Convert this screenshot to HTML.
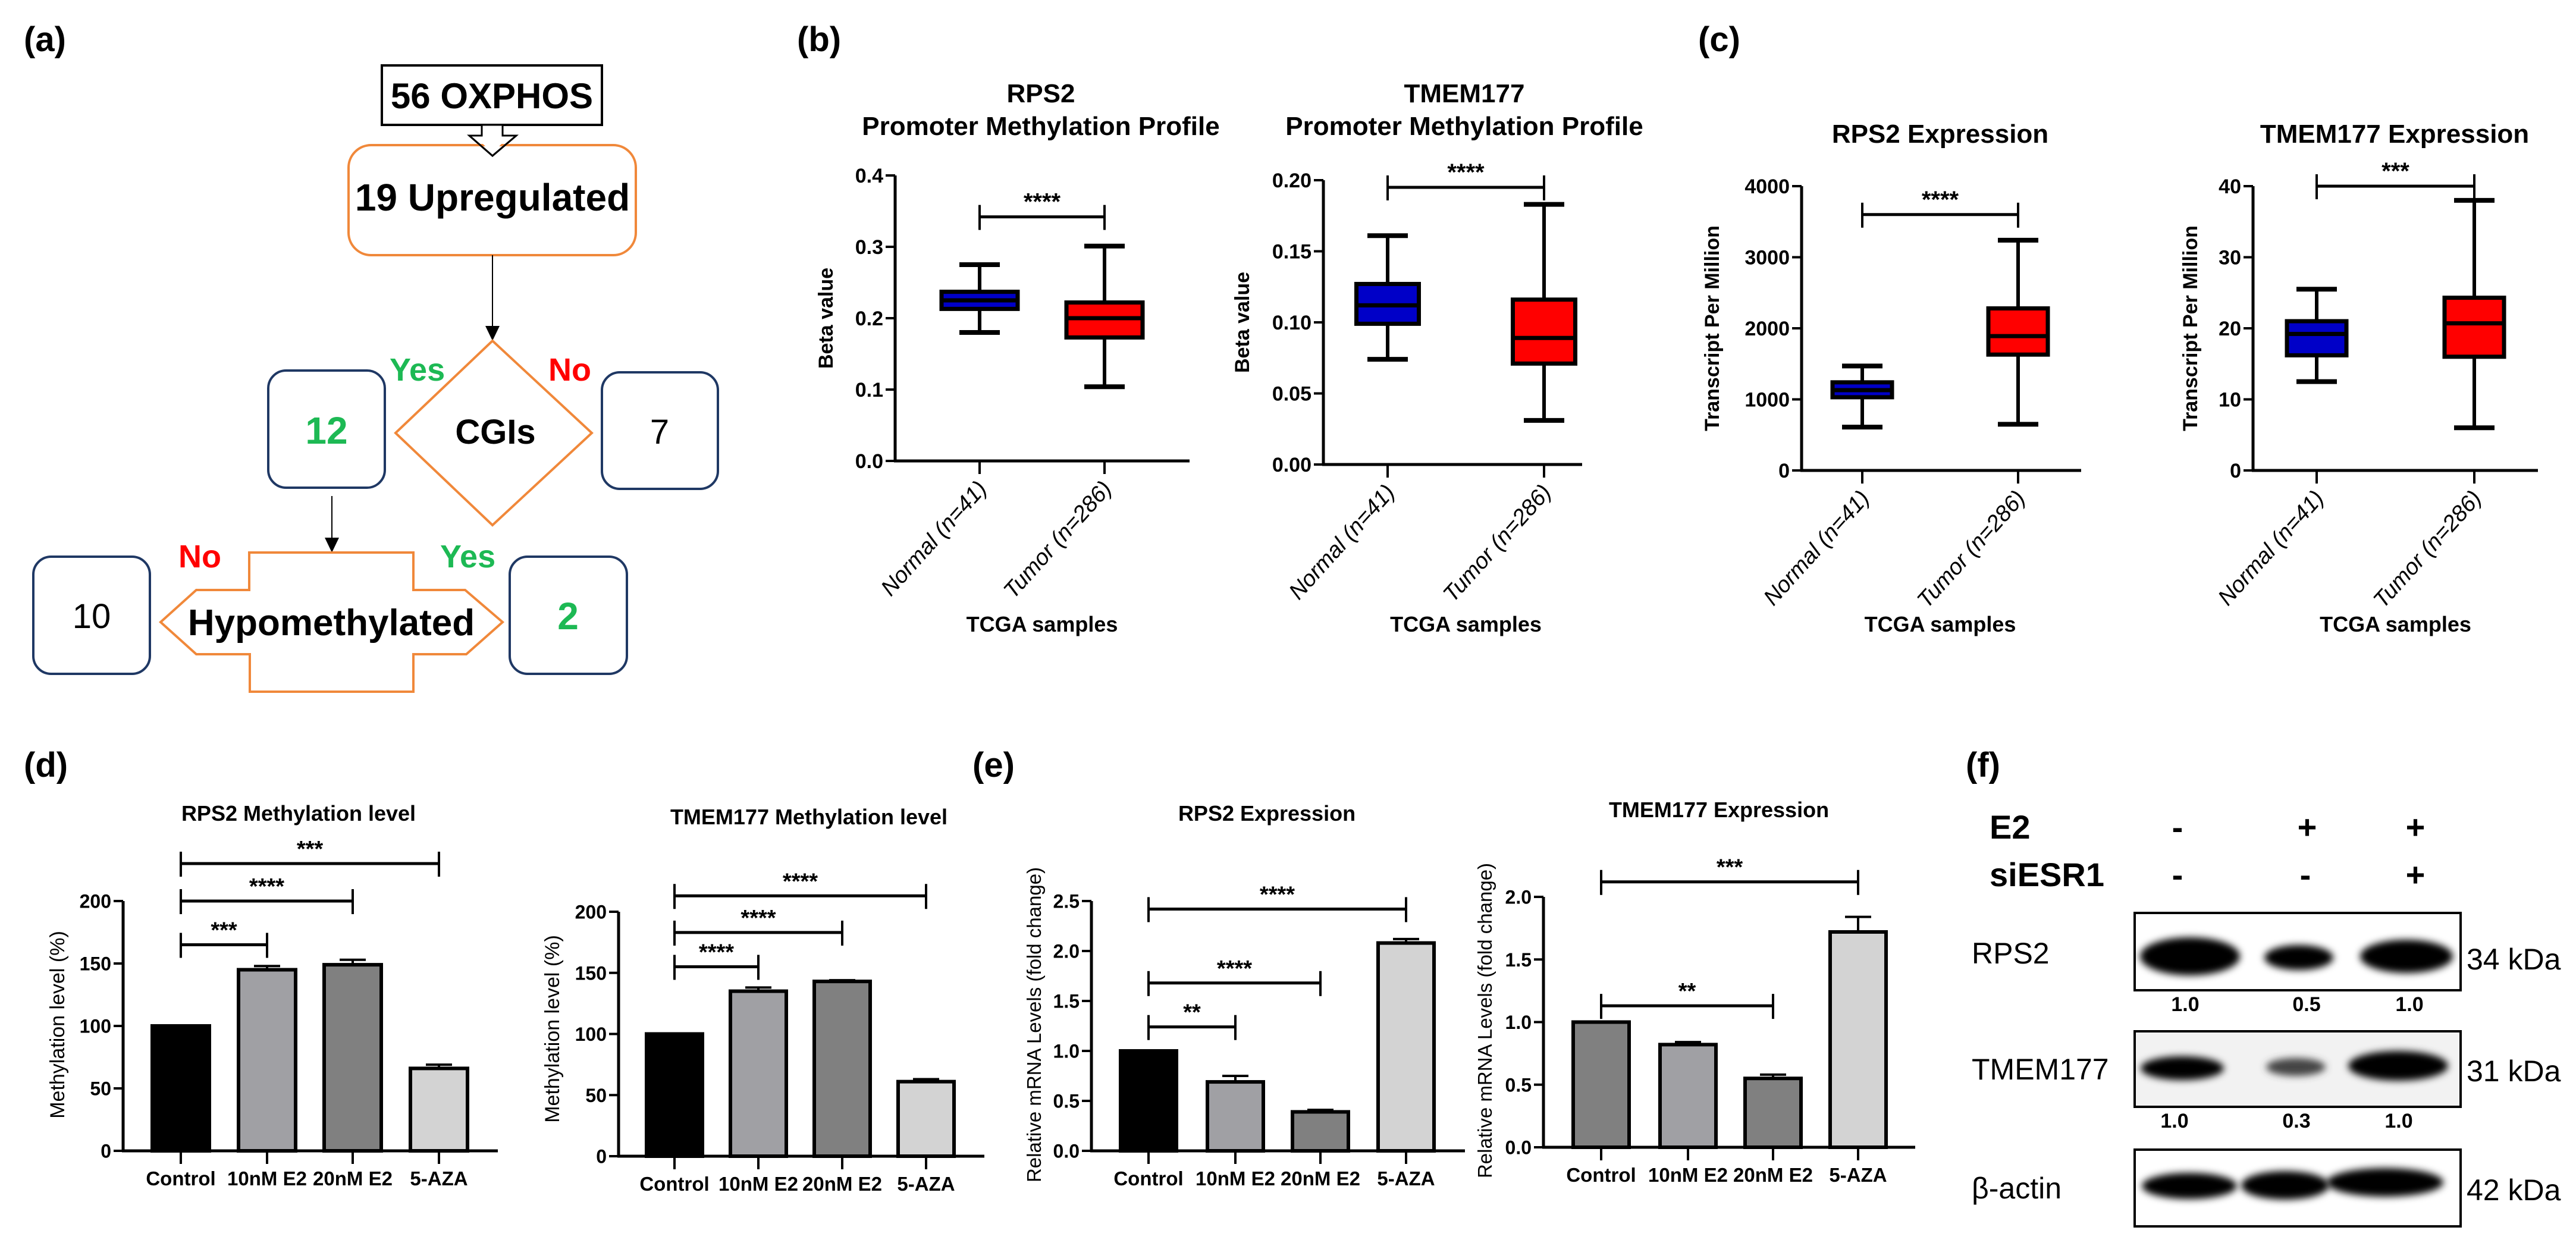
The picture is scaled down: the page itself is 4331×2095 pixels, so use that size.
<!DOCTYPE html>
<html><head><meta charset="utf-8"><style>
html,body{margin:0;padding:0;background:#fff;}
svg{display:block;font-family:"Liberation Sans",Arial,sans-serif;}
.nar{font-family:"Liberation Sans Narrow","Liberation Sans",sans-serif;}
</style></head><body>
<svg id="fig" width="4331" height="2095" viewBox="0 0 4331 2095" xmlns="http://www.w3.org/2000/svg">
<defs>
<filter id="blur" x="-20%" y="-60%" width="140%" height="220%"><feGaussianBlur stdDeviation="6"/></filter>
</defs>
<g font-weight="bold" font-size="58" class="nar">
<text x="40" y="86">(a)</text>
<text x="1340" y="86">(b)</text>
<text x="2855" y="86">(c)</text>
<text x="40" y="1306">(d)</text>
<text x="1635" y="1306">(e)</text>
<text x="3305" y="1306">(f)</text>
</g>
<g>
<rect x="642" y="110" width="370" height="100" fill="#fff" stroke="#000" stroke-width="4"/>
<text x="827" y="182" text-anchor="middle" font-size="60" font-weight="bold" class="nar">56 OXPHOS</text>
<polygon points="810,210 845,210 845,228 868,228 828,262 789,228 810,228" fill="#fff" stroke="#000" stroke-width="3"/>
<rect x="586" y="244" width="483" height="185" rx="38" fill="none" stroke="#f0883a" stroke-width="4"/>
<polygon points="810,240 845,240 828,258" fill="#fff"/>
<path d="M789,228 L828,262 L868,228" fill="none" stroke="#000" stroke-width="3"/>
<text x="828" y="354" text-anchor="middle" font-size="64" font-weight="bold">19  Upregulated</text>
<line x1="828" y1="429" x2="828" y2="550" stroke="#000" stroke-width="2"/>
<polygon points="828,573 816,548 840,548" fill="#000"/>
<polygon points="828,573 995,728 828,883 665,728" fill="none" stroke="#f0883a" stroke-width="4"/>
<text x="833" y="746" text-anchor="middle" font-size="58" font-weight="bold">CGIs</text>
<text x="655" y="640" font-size="54" font-weight="bold" fill="#1db954">Yes</text>
<text x="922" y="640" font-size="54" font-weight="bold" fill="#ff0000">No</text>
<rect x="451" y="623" width="196" height="197" rx="30" fill="none" stroke="#1f3864" stroke-width="4"/>
<text x="549" y="746" text-anchor="middle" font-size="64" font-weight="bold" fill="#1db954">12</text>
<rect x="1012" y="626" width="195" height="196" rx="30" fill="none" stroke="#1f3864" stroke-width="4"/>
<text x="1109" y="746" text-anchor="middle" font-size="58">7</text>
<line x1="558" y1="834" x2="558" y2="905" stroke="#000" stroke-width="2"/>
<polygon points="558,929 546,904 570,904" fill="#000"/>
<polygon points="419,929 695,929 695,992 782,992 845,1046 784,1100 695,1100 695,1163 420,1163 420,1100 330,1100 270,1046 330,992 419,992" fill="none" stroke="#f0883a" stroke-width="4"/>
<text x="557" y="1068" text-anchor="middle" font-size="62" font-weight="bold">Hypomethylated</text>
<text x="300" y="954" font-size="54" font-weight="bold" fill="#ff0000">No</text>
<text x="740" y="954" font-size="54" font-weight="bold" fill="#1db954">Yes</text>
<rect x="56" y="936" width="196" height="197" rx="30" fill="none" stroke="#1f3864" stroke-width="4"/>
<text x="154" y="1056" text-anchor="middle" font-size="58">10</text>
<rect x="857" y="936" width="197" height="197" rx="30" fill="none" stroke="#1f3864" stroke-width="4"/>
<text x="955" y="1058" text-anchor="middle" font-size="64" font-weight="bold" fill="#1db954">2</text>
</g>
<g class="nar">
<text x="3345" y="1410" font-size="56" font-weight="bold">E2</text>
<text x="3345" y="1490" font-size="56" font-weight="bold">siESR1</text>
<g font-size="56" font-weight="bold" text-anchor="middle">
<text x="3661" y="1410">-</text>
<text x="3879" y="1410">+</text>
<text x="4061" y="1410">+</text>
<text x="3661" y="1490">-</text>
<text x="3876" y="1490">-</text>
<text x="4061" y="1490">+</text>
</g>
<g>
<rect x="3589" y="1535" width="548" height="130" fill="#fff" stroke="#000" stroke-width="4"/>
<ellipse cx="3682" cy="1608" rx="84" ry="32" fill="#000" filter="url(#blur)"/>
<ellipse cx="3865" cy="1610" rx="58" ry="21" fill="#000" filter="url(#blur)"/>
<ellipse cx="4046" cy="1608" rx="78" ry="28" fill="#000" filter="url(#blur)"/>
</g>
<g>
<rect x="3589" y="1734" width="548" height="127" fill="#f2f2f2" stroke="#000" stroke-width="4"/>
<ellipse cx="3669" cy="1796" rx="70" ry="20" fill="#000" filter="url(#blur)"/>
<ellipse cx="3860" cy="1794" rx="50" ry="15" fill="#444" filter="url(#blur)"/>
<ellipse cx="4032" cy="1792" rx="84" ry="25" fill="#000" filter="url(#blur)"/>
</g>
<g>
<rect x="3589" y="1933" width="548" height="129" fill="#fff" stroke="#000" stroke-width="4"/>
<ellipse cx="3681" cy="1994" rx="80" ry="22" fill="#000" filter="url(#blur)"/>
<ellipse cx="3842" cy="1993" rx="74" ry="24" fill="#000" filter="url(#blur)"/>
<ellipse cx="4010" cy="1988" rx="98" ry="24" fill="#000" filter="url(#blur)"/>
</g>
<text x="3315" y="1620" font-size="50">RPS2</text>
<text x="3315" y="1815" font-size="50">TMEM177</text>
<text x="3315" y="2015" font-size="50">β-actin</text>
<text x="4147" y="1630" font-size="50">34 kDa</text>
<text x="4147" y="1818" font-size="50">31 kDa</text>
<text x="4147" y="2018" font-size="50">42 kDa</text>
<g font-size="34" font-weight="bold" text-anchor="middle">
<text x="3674" y="1700">1.0</text>
<text x="3878" y="1700">0.5</text>
<text x="4051" y="1700">1.0</text>
<text x="3656" y="1896">1.0</text>
<text x="3861" y="1896">0.3</text>
<text x="4033" y="1896">1.0</text>
</g>
</g>
</svg>
<script>
const boxCategories = ["Normal (n=41)", "Tumor (n=286)"];
// [min, q1, median, q3, max]
const bRps2Normal = [0.180, 0.213, 0.225, 0.237, 0.275];
const bRps2Tumor = [0.104, 0.173, 0.200, 0.222, 0.301];
const bTmemNormal = [0.074, 0.099, 0.112, 0.127, 0.161];
const bTmemTumor = [0.031, 0.071, 0.089, 0.116, 0.183];
const cRps2Normal = [610, 1030, 1130, 1240, 1470];
const cRps2Tumor = [650, 1630, 1890, 2280, 3240];
const cTmemNormal = [12.5, 16.2, 19.2, 21.0, 25.5];
const cTmemTumor = [6.0, 16.0, 20.7, 24.3, 38.0];
const bRps2Ticks = [0, 0.1, 0.2, 0.3, 0.4];
const bRps2TickLabels = ["0.0", "0.1", "0.2", "0.3", "0.4"];
const bTmemTicks = [0, 0.05, 0.10, 0.15, 0.20];
const bTmemTickLabels = ["0.00", "0.05", "0.10", "0.15", "0.20"];
const cRps2Ticks = [0, 1000, 2000, 3000, 4000];
const cTmemTicks = [0, 10, 20, 30, 40];

const barCategories = ["Control", "10nM E2", "20nM E2", "5-AZA"];
const dRps2Values = [100, 145, 149, 66];
const dRps2Errors = [0, 3, 4, 3];
const dTmemValues = [100, 135, 143, 61];
const dTmemErrors = [0, 3, 1, 2];
const eRps2Values = [1.0, 0.69, 0.39, 2.08];
const eRps2Errors = [0, 0.06, 0.02, 0.04];
const eTmemValues = [1.0, 0.82, 0.55, 1.72];
const eTmemErrors = [0, 0.02, 0.03, 0.12];
const dTicks = [0, 50, 100, 150, 200];
const eRps2Ticks = [0, 0.5, 1.0, 1.5, 2.0, 2.5];
const eRps2TickLabels = ["0.0", "0.5", "1.0", "1.5", "2.0", "2.5"];
const eTmemTicks = [0, 0.5, 1.0, 1.5, 2.0];
const eTmemTickLabels = ["0.0", "0.5", "1.0", "1.5", "2.0"];
// [fromIndex, toIndex, yValue, label]
const bRps2Sig = [[0, 1, 0.342, "****"]];
const bTmemSig = [[0, 1, 0.195, "****"]];
const cRps2Sig = [[0, 1, 3600, "****"]];
const cTmemSig = [[0, 1, 40, "***"]];
const dRps2Sig = [[0, 1, 165, "***"], [0, 2, 200, "****"], [0, 3, 230, "***"]];
const dTmemSig = [[0, 1, 155, "****"], [0, 2, 183, "****"], [0, 3, 213, "****"]];
const eRps2Sig = [[0, 1, 1.24, "**"], [0, 2, 1.68, "****"], [0, 3, 2.42, "****"]];
const eTmemSig = [[0, 2, 1.13, "**"], [0, 3, 2.12, "***"]];

const NS = "http://www.w3.org/2000/svg";
const svg = document.getElementById("fig");
function mk(tag, attrs, parent, name) {
  const e = document.createElementNS(NS, tag);
  for (const k in attrs) e.setAttribute(k, attrs[k]);
  
  
  parent.appendChild(e);
  return e;
}
function txt(str, attrs, parent, name) {
  const t = mk("text", attrs, parent, name);
  t.textContent = str;
  return t;
}
function axes(g, L, ticks, tickLabels, yScale, fs) {
  mk("line", {x1: L.ax, y1: L.y0 + 2, x2: L.ax, y2: L.yTop, stroke: "#000", "stroke-width": 5}, g, "y-axis-line");
  mk("line", {x1: L.ax - 2, y1: L.y0, x2: L.xEnd, y2: L.y0, stroke: "#000", "stroke-width": 5}, g, "x-axis-line");
  ticks.forEach((t, i) => {
    const y = yScale(t);
    mk("line", {x1: L.ax - 16, y1: y, x2: L.ax, y2: y, stroke: "#000", "stroke-width": 4}, g, "y-tick");
    txt(tickLabels[i], {x: L.ax - 20, y: y + fs * 0.36, "text-anchor": "end", "font-size": fs, class: "nar", "font-weight": "bold"}, g, "y-tick-label");
  });
}
function sigBrackets(g, sig, xs, yScale, fs) {
  sig.forEach(s => {
    const y = yScale(s[2]);
    const x1 = xs[s[0]], x2 = xs[s[1]];
    mk("line", {x1: x1, y1: y, x2: x2, y2: y, stroke: "#000", "stroke-width": 5}, g, "sig-bracket");
    mk("line", {x1: x1, y1: y - 20, x2: x1, y2: y + 22, stroke: "#000", "stroke-width": 4}, g, "sig-bracket-end");
    mk("line", {x1: x2, y1: y - 20, x2: x2, y2: y + 22, stroke: "#000", "stroke-width": 4}, g, "sig-bracket-end");
    txt(s[3], {x: (x1 + x2) / 2, y: y - 12, "text-anchor": "middle", "font-size": fs, "font-weight": "bold"}, g, "sig-stars");
  });
}
function boxChart(L, series, ticks, tickLabels, sig, title, yLabel, name) {
  const g = mk("g", {}, svg, name);
  const ymax = ticks[ticks.length - 1];
  const yScale = v => L.y0 - (v / ymax) * (L.y0 - L.yTop);
  title.forEach((t, i) => txt(t, {x: L.tx, y: L.ty + i * 55, "text-anchor": "middle", "font-size": 44, "font-weight": "bold", class: "nar"}, g, "chart-title"));
  txt(yLabel, {x: 0, y: 0, transform: `translate(${L.yl},${(L.y0 + L.yTop) / 2}) rotate(-90)`, "text-anchor": "middle", "font-size": 34, "font-weight": "bold"}, g, "y-axis-title");
  axes(g, L, ticks, tickLabels, yScale, 34);
  const colors = ["#0000c8", "#ff0000"];
  series.forEach((d, i) => {
    const cx = L.xs[i], w = L.bw;
    mk("line", {x1: cx, y1: yScale(d[0]), x2: cx, y2: yScale(d[4]), stroke: "#000", "stroke-width": 6}, g, "whisker");
    mk("line", {x1: cx - 34, y1: yScale(d[0]), x2: cx + 34, y2: yScale(d[0]), stroke: "#000", "stroke-width": 8}, g, "whisker-cap-min");
    mk("line", {x1: cx - 34, y1: yScale(d[4]), x2: cx + 34, y2: yScale(d[4]), stroke: "#000", "stroke-width": 8}, g, "whisker-cap-max");
    mk("rect", {x: cx - w / 2, y: yScale(d[3]), width: w, height: yScale(d[1]) - yScale(d[3]), fill: colors[i], stroke: "#000", "stroke-width": 7}, g, "box-" + (i ? "tumor" : "normal"));
    mk("line", {x1: cx - w / 2, y1: yScale(d[2]), x2: cx + w / 2, y2: yScale(d[2]), stroke: "#000", "stroke-width": 7}, g, "median-line");
    mk("line", {x1: cx, y1: L.y0, x2: cx, y2: L.y0 + 22, stroke: "#000", "stroke-width": 4}, g, "x-tick");
    txt(boxCategories[i], {x: 0, y: 0, transform: `translate(${cx + 14},${L.y0 + 48}) rotate(-48)`, "text-anchor": "end", "font-size": 38, "font-style": "italic"}, g, "x-tick-label");
  });
  sigBrackets(g, sig, L.xs, yScale, 40);
  txt("TCGA samples", {x: (L.xs[0] + L.xs[1]) / 2, y: 1062, "text-anchor": "middle", "font-size": 36, "font-weight": "bold", class: "nar"}, g, "x-axis-title");
}
function barChart(L, values, errors, colors, ticks, tickLabels, sig, title, yLabel, name, ylfs) {
  const g = mk("g", {}, svg, name);
  const ymax = ticks[ticks.length - 1];
  const yScale = v => L.y0 - (v / ymax) * (L.y0 - L.yTop);
  txt(title, {x: L.tx, y: L.ty, "text-anchor": "middle", "font-size": 36, "font-weight": "bold", class: "nar"}, g, "chart-title");
  txt(yLabel, {x: 0, y: 0, transform: `translate(${L.yl},${L.ylc}) rotate(-90)`, "text-anchor": "middle", "font-size": ylfs}, g, "y-axis-title");
  axes(g, L, ticks, tickLabels, yScale, 32);
  values.forEach((v, i) => {
    const cx = L.xs[i], w = L.bw;
    if (errors[i] > 0) {
      mk("line", {x1: cx, y1: yScale(v), x2: cx, y2: yScale(v + errors[i]), stroke: "#000", "stroke-width": 4}, g, "error-bar");
      mk("line", {x1: cx - 22, y1: yScale(v + errors[i]), x2: cx + 22, y2: yScale(v + errors[i]), stroke: "#000", "stroke-width": 4}, g, "error-cap");
    }
    mk("rect", {x: cx - w / 2, y: yScale(v), width: w, height: L.y0 - yScale(v), fill: colors[i], stroke: "#000", "stroke-width": 6}, g, "bar-" + barCategories[i].toLowerCase().replace(/\s+/g, "-"));
    mk("line", {x1: cx, y1: L.y0, x2: cx, y2: L.y0 + 22, stroke: "#000", "stroke-width": 4}, g, "x-tick");
    txt(barCategories[i], {x: cx, y: L.y0 + 58, "text-anchor": "middle", "font-size": 33, "font-weight": "bold", class: "nar"}, g, "x-tick-label");
  });
  sigBrackets(g, sig, L.xs, yScale, 38);
}

boxChart({ax: 1505, y0: 775, yTop: 295, xEnd: 2000, xs: [1647, 1857], bw: 128, tx: 1750, ty: 172, yl: 1400},
  [bRps2Normal, bRps2Tumor], bRps2Ticks, bRps2TickLabels, bRps2Sig, ["RPS2", "Promoter Methylation Profile"], "Beta value", "box-chart-b-rps2");
boxChart({ax: 2225, y0: 781, yTop: 303, xEnd: 2660, xs: [2333, 2596], bw: 105, tx: 2462, ty: 172, yl: 2100},
  [bTmemNormal, bTmemTumor], bTmemTicks, bTmemTickLabels, bTmemSig, ["TMEM177", "Promoter Methylation Profile"], "Beta value", "box-chart-b-tmem177");
boxChart({ax: 3029, y0: 791, yTop: 313, xEnd: 3499, xs: [3131, 3393], bw: 100, tx: 3262, ty: 240, yl: 2890},
  [cRps2Normal, cRps2Tumor], cRps2Ticks, cRps2Ticks.map(String), cRps2Sig, ["RPS2 Expression"], "Transcript Per Million", "box-chart-c-rps2");
boxChart({ax: 3788, y0: 791, yTop: 313, xEnd: 4267, xs: [3895, 4160], bw: 100, tx: 4026, ty: 240, yl: 3694},
  [cTmemNormal, cTmemTumor], cTmemTicks, cTmemTicks.map(String), cTmemSig, ["TMEM177 Expression"], "Transcript Per Million", "box-chart-c-tmem177");

barChart({ax: 207, y0: 1935, yTop: 1515, xEnd: 837, xs: [304, 449, 593, 738], bw: 96, tx: 502, ty: 1380, yl: 108, ylc: 1723},
  dRps2Values, dRps2Errors, ["#000", "#a0a0a4", "#808080", "#d3d3d3"], dTicks, dTicks.map(String), dRps2Sig, "RPS2 Methylation level", "Methylation level (%)", "bar-chart-d-rps2", 34);
barChart({ax: 1040, y0: 1944, yTop: 1533, xEnd: 1655, xs: [1134, 1275, 1416, 1557], bw: 94, tx: 1360, ty: 1386, yl: 940, ylc: 1730},
  dTmemValues, dTmemErrors, ["#000", "#a0a0a4", "#808080", "#d3d3d3"], dTicks, dTicks.map(String), dTmemSig, "TMEM177 Methylation level", "Methylation level (%)", "bar-chart-d-tmem177", 34);
barChart({ax: 1835, y0: 1935, yTop: 1515, xEnd: 2463, xs: [1931, 2077, 2220, 2364], bw: 94, tx: 2130, ty: 1380, yl: 1750, ylc: 1723},
  eRps2Values, eRps2Errors, ["#000", "#a0a0a4", "#808080", "#d3d3d3"], eRps2Ticks, eRps2TickLabels, eRps2Sig, "RPS2 Expression", "Relative mRNA Levels (fold change)", "bar-chart-e-rps2", 33);
barChart({ax: 2595, y0: 1929, yTop: 1508, xEnd: 3220, xs: [2692, 2838, 2981, 3124], bw: 94, tx: 2890, ty: 1374, yl: 2508, ylc: 1716},
  eTmemValues, eTmemErrors, ["#808080", "#a0a0a4", "#808080", "#d3d3d3"], eTmemTicks, eTmemTickLabels, eTmemSig, "TMEM177 Expression", "Relative mRNA Levels (fold change)", "bar-chart-e-tmem177", 33);
</script>
</body></html>
